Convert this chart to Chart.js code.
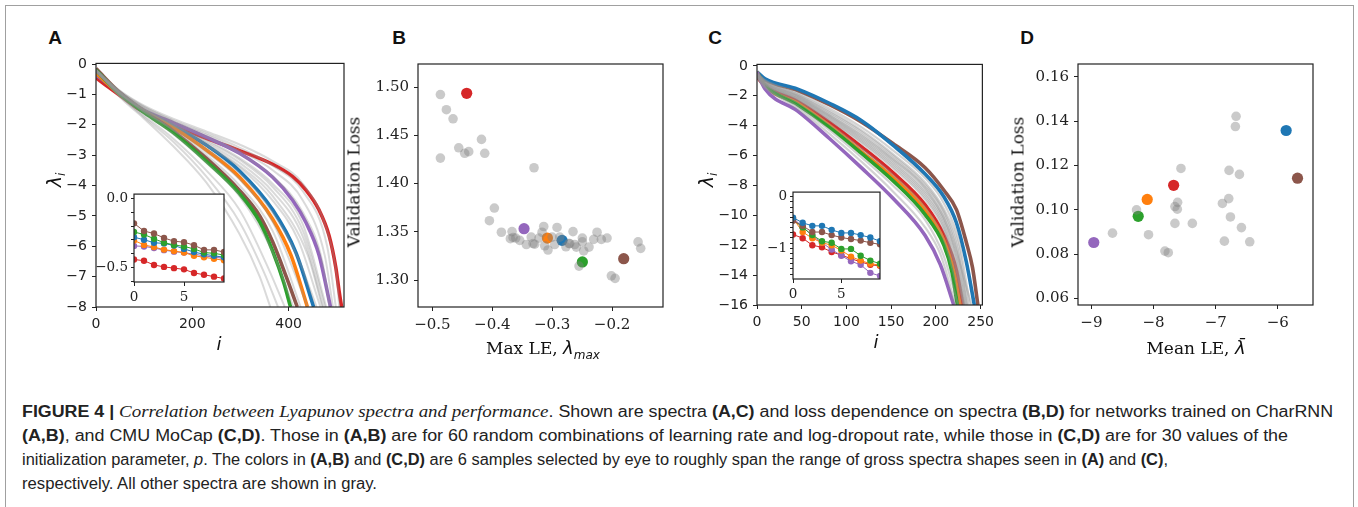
<!DOCTYPE html>
<html>
<head>
<meta charset="utf-8">
<script src="https://cdn.jsdelivr.net/npm/chart.js@4.4.1/dist/chart.umd.min.js"></script>
<style>
body { margin:0; background:#fff; width:1358px; height:507px; overflow:hidden; position:relative; font-family:"DejaVu Sans"; }
.frame { position:absolute; left:5px; top:5px; width:1347px; height:530px; border:1px solid #a0a0a0; }
canvas { position:absolute; }
.lbl { position:absolute; white-space:nowrap; color:#111; line-height:1; }
.letter { font-family:"Liberation Sans", Arial, sans-serif; font-weight:bold; font-size:19px; }
.serif { font-family:"DejaVu Serif"; font-size:17px; }
.math { font-family:"DejaVu Sans"; font-style:italic; }
.cap { position:absolute; left:22px; white-space:nowrap; font-family:"Liberation Sans Narrow","Liberation Sans",sans-serif; font-size:16px; color:#222; transform-origin:0 50%; }
.cap b { font-weight:bold; }
.cap .it { font-family:"Liberation Serif"; font-style:italic; font-size:17px; }
</style>
</head>
<body>
<div class="frame"></div>

<canvas id="chartA"></canvas>
<canvas id="chartB"></canvas>
<canvas id="chartC"></canvas>
<canvas id="chartD"></canvas>
<canvas id="insetA"></canvas>
<canvas id="insetC"></canvas>

<script>
// ---------- colours ----------
const COLORS = {
    blue: '#1f77b4', orange: '#ff7f0e', green: '#2ca02c',
    red: '#d62728', purple: '#9467bd', brown: '#8c564b'
};

// ---------- panel A : CharRNN spectra, [i, lambda_i] ----------
const A_X_TICKS = [0, 200, 400];
const A_Y_TICKS = [0, -1, -2, -3, -4, -5, -6, -7, -8];
const A_GREEN  = [[0,-0.2],[50,-1.0],[100,-1.6],[160,-2.25],[229,-3.2],[298,-4.27],[340,-5.2],[367,-6.17],[390,-7.2],[404,-8]];
const A_BROWN  = [[0,-0.15],[50,-0.95],[100,-1.55],[160,-2.2],[229,-3.1],[298,-4.16],[340,-5.0],[367,-5.86],[395,-7.0],[418,-8]];
const A_ORANGE = [[0,-0.3],[50,-1.0],[100,-1.55],[160,-2.09],[229,-2.83],[298,-3.73],[367,-5.11],[405,-6.3],[439,-8]];
const A_BLUE   = [[0,-0.3],[50,-1.0],[100,-1.55],[160,-2.04],[229,-2.67],[298,-3.52],[367,-4.8],[415,-6.2],[452,-8]];
const A_PURPLE = [[0,-0.35],[50,-0.95],[91,-1.45],[160,-1.93],[229,-2.41],[298,-2.94],[367,-3.73],[408,-4.48],[436,-5.22],[463,-6.28],[487,-8]];
const A_RED    = [[0,-0.45],[25,-0.75],[60,-1.15],[91,-1.5],[160,-2.0],[229,-2.45],[298,-2.85],[367,-3.3],[408,-3.7],[436,-4.15],[463,-4.8],[484,-5.65],[498,-6.7],[505,-7.5],[510,-8]];
const A_GRAY = [
    [[0,-0.2],[50,-1.1],[100,-1.8],[160,-2.7],[229,-3.9],[298,-5.6],[340,-7.0],[362,-8]],
    [[0,-0.2],[50,-1.05],[100,-1.75],[160,-2.55],[229,-3.7],[298,-5.2],[350,-6.9],[378,-8]],
    [[0,-0.2],[50,-1.05],[100,-1.7],[160,-2.45],[229,-3.5],[298,-4.8],[360,-6.8],[392,-8]],
    [[0,-0.2],[50,-1.0],[100,-1.62],[160,-2.3],[229,-3.25],[298,-4.35],[367,-6.2],[410,-8]],
    [[0,-0.2],[50,-0.98],[100,-1.58],[160,-2.18],[229,-3.0],[298,-4.0],[367,-5.5],[425,-8]],
    [[0,-0.22],[50,-0.97],[100,-1.56],[160,-2.15],[229,-2.9],[298,-3.8],[367,-5.2],[440,-8]],
    [[0,-0.25],[50,-0.98],[100,-1.55],[160,-2.1],[229,-2.8],[298,-3.6],[367,-4.9],[420,-6.4],[458,-8]],
    [[0,-0.25],[50,-0.97],[100,-1.52],[160,-2.05],[229,-2.7],[298,-3.4],[367,-4.5],[420,-5.8],[466,-8]],
    [[0,-0.25],[50,-0.95],[100,-1.5],[160,-2.02],[229,-2.65],[298,-3.35],[367,-4.35],[440,-6.3],[470,-8]],
    [[0,-0.25],[50,-0.96],[100,-1.5],[160,-2.0],[229,-2.6],[298,-3.25],[367,-4.2],[430,-5.7],[472,-8]],
    [[0,-0.2],[50,-0.95],[100,-1.5],[160,-2.0],[229,-2.55],[298,-3.15],[367,-4.05],[430,-5.5],[476,-8]],
    [[0,-0.25],[50,-0.95],[100,-1.48],[160,-1.98],[229,-2.5],[298,-3.1],[367,-3.95],[430,-5.3],[478,-8]],
    [[0,-0.2],[50,-0.93],[100,-1.45],[160,-1.92],[229,-2.4],[298,-2.95],[367,-3.7],[430,-4.9],[470,-6.5],[485,-8]],
    [[0,-0.2],[50,-0.92],[100,-1.42],[160,-1.88],[229,-2.33],[298,-2.85],[367,-3.5],[430,-4.5],[475,-6.3],[492,-8]],
    [[0,-0.2],[50,-0.9],[100,-1.4],[160,-1.85],[229,-2.28],[298,-2.75],[367,-3.35],[430,-4.2],[480,-6.0],[498,-8]],
    [[0,-0.2],[50,-0.88],[100,-1.37],[160,-1.8],[229,-2.22],[298,-2.65],[367,-3.2],[430,-3.95],[480,-5.5],[500,-7.0],[505,-8]]
];

// inset A: first ten exponents
const INSET_IDX = [0, 1, 2, 3, 4, 5, 6, 7, 8, 9];
const IA_BROWN  = [-0.179,-0.235,-0.253,-0.285,-0.309,-0.316,-0.338,-0.372,-0.372,-0.388];
const IA_GREEN  = [-0.242,-0.26,-0.291,-0.32,-0.336,-0.347,-0.365,-0.392,-0.397,-0.41];
const IA_BLUE   = [-0.28,-0.298,-0.32,-0.325,-0.34,-0.365,-0.388,-0.404,-0.415,-0.426];
const IA_ORANGE = [-0.303,-0.336,-0.352,-0.37,-0.381,-0.392,-0.415,-0.426,-0.437,-0.448];
const IA_PURPLE = [-0.343,-0.347,-0.358,-0.374,-0.385,-0.392,-0.404,-0.415,-0.426,-0.433];
const IA_RED    = [-0.442,-0.451,-0.482,-0.496,-0.505,-0.514,-0.54,-0.553,-0.567,-0.581];

// ---------- panel B : max LE vs validation loss ----------
const B_X_TICKS = [-0.5, -0.4, -0.3, -0.2];
const B_Y_TICKS = [1.30, 1.35, 1.40, 1.45, 1.50];
const B_GRAY_X = [-0.4866,-0.4766,-0.4655,-0.4866,-0.456,-0.446,-0.4393,-0.418,-0.4126,-0.3303,-0.3965,-0.4048,-0.3848,-0.367,-0.3609,-0.3698,-0.3542,-0.3431,-0.332,-0.3292,-0.322,-0.3141,-0.3169,-0.3125,-0.307,-0.2958,-0.2919,-0.2874,-0.2707,-0.2652,-0.2624,-0.2596,-0.2496,-0.2496,-0.2474,-0.2552,-0.2385,-0.2307,-0.2251,-0.2179,-0.2084,-0.2012,-0.195,-0.1566,-0.1522,-0.3653,-0.335,-0.3,-0.272,-0.277];
const B_GRAY_Y = [1.4923,1.4766,1.4672,1.4264,1.4371,1.4314,1.4331,1.4458,1.4314,1.4164,1.3746,1.3615,1.3495,1.3502,1.3435,1.3428,1.3411,1.3368,1.3378,1.3371,1.3435,1.3555,1.3495,1.3355,1.3311,1.3368,1.3545,1.3445,1.3378,1.3502,1.3368,1.3341,1.3435,1.3395,1.3301,1.3144,1.3341,1.3421,1.3495,1.3421,1.3435,1.3043,1.3017,1.3395,1.3328,1.3441,1.3445,1.3445,1.3378,1.3345];
const B_SEL_NAMES = ['red', 'purple', 'orange', 'blue', 'green', 'brown'];
const B_SEL_X = [-0.4427, -0.347, -0.308, -0.2835, -0.2496, -0.1806];
const B_SEL_Y = [1.4936, 1.3532, 1.3435, 1.3411, 1.3187, 1.3221];

// ---------- panel C : CMU MoCap spectra ----------
const C_X_TICKS = [0, 50, 100, 150, 200, 250];
const C_Y_TICKS = [0, -2, -4, -6, -8, -10, -12, -14, -16];
const C_BLUE   = [[0,-0.4],[9,-0.86],[45.5,-1.55],[81,-2.5],[116.6,-3.65],[152,-5.3],[188,-7.24],[209,-8.76],[223,-10.5],[234,-13.1],[243,-16]];
const C_BROWN  = [[0,-0.46],[9,-0.92],[45.5,-1.65],[81,-2.6],[116.6,-3.75],[152,-5.19],[188,-6.81],[209,-8.32],[223,-9.62],[234,-11.8],[241,-13.5],[247,-16]];
const C_RED    = [[0,-0.73],[9,-1.34],[45.5,-2.38],[81,-3.78],[116.6,-5.4],[152,-7.14],[188,-9.3],[209,-11.35],[223,-13.7],[230,-16]];
const C_ORANGE = [[0,-0.42],[9,-1.33],[45.5,-2.5],[81,-4.0],[116.6,-5.73],[152,-7.46],[188,-9.62],[209,-11.7],[220,-13.8],[227,-16]];
const C_GREEN  = [[0,-0.45],[9,-1.3],[45.5,-2.6],[81,-4.1],[116.6,-5.84],[152,-7.68],[188,-9.95],[209,-12.0],[218,-13.8],[224,-16]];
const C_PURPLE = [[0,-0.42],[9,-1.54],[45.5,-3.03],[81,-4.86],[116.6,-6.81],[152,-8.86],[188,-11.35],[205,-13.3],[220,-16]];
const C_GRAY = [
    [[0,-0.5],[9,-0.95],[45.5,-1.8],[81,-2.85],[116.6,-4.1],[152,-5.65],[188,-7.5],[209,-9.2],[226,-11.8],[238,-16]],
    [[0,-0.5],[9,-1.0],[45.5,-1.9],[81,-3.0],[116.6,-4.3],[152,-5.9],[188,-7.8],[209,-9.6],[225,-12],[236,-16]],
    [[0,-0.55],[9,-1.05],[45.5,-1.95],[81,-3.1],[116.6,-4.4],[152,-6.0],[188,-7.95],[209,-9.75],[224,-12.2],[235,-16]],
    [[0,-0.6],[9,-1.1],[45.5,-2.0],[81,-3.2],[116.6,-4.55],[152,-6.15],[188,-8.1],[209,-9.9],[224,-12.5],[234,-16]],
    [[0,-0.6],[9,-1.1],[45.5,-2.05],[81,-3.3],[116.6,-4.65],[152,-6.25],[188,-8.2],[215,-11],[240,-16]],
    [[0,-0.6],[9,-1.15],[45.5,-2.1],[81,-3.35],[116.6,-4.75],[152,-6.35],[188,-8.35],[209,-10.2],[223,-12.8],[233,-16]],
    [[0,-0.62],[9,-1.17],[45.5,-2.15],[81,-3.42],[116.6,-4.85],[152,-6.48],[188,-8.5],[209,-10.4],[223,-13.0],[232,-16]],
    [[0,-0.65],[9,-1.2],[45.5,-2.2],[81,-3.5],[116.6,-4.95],[152,-6.6],[188,-8.65],[209,-10.6],[222,-13.2],[232,-16]],
    [[0,-0.68],[9,-1.22],[45.5,-2.25],[81,-3.58],[116.6,-5.05],[152,-6.72],[188,-8.8],[209,-10.8],[222,-13.4],[231,-16]],
    [[0,-0.7],[9,-1.25],[45.5,-2.3],[81,-3.65],[116.6,-5.15],[152,-6.85],[188,-8.95],[209,-11.0],[221,-13.5],[231,-16]],
    [[0,-0.7],[9,-1.3],[45.5,-2.45],[81,-3.9],[116.6,-5.55],[152,-7.3],[188,-9.5],[209,-11.6],[220,-13.9],[228,-16]],
    [[0,-0.75],[9,-1.4],[45.5,-2.7],[81,-4.3],[116.6,-6.1],[152,-8.0],[188,-10.3],[208,-12.6],[225,-16]],
    [[0,-0.8],[9,-1.45],[45.5,-2.85],[81,-4.55],[116.6,-6.4],[152,-8.4],[188,-10.8],[205,-12.6],[222,-16]]
];

// inset C
const IC_BLUE   = [-0.405,-0.506,-0.565,-0.565,-0.643,-0.702,-0.702,-0.744,-0.792,-0.863];
const IC_BROWN  = [-0.464,-0.565,-0.685,-0.685,-0.744,-0.792,-0.821,-0.851,-0.893,-0.923];
const IC_GREEN  = [-0.446,-0.595,-0.744,-0.863,-0.893,-1.012,-1.012,-1.143,-1.238,-1.298];
const IC_ORANGE = [-0.417,-0.685,-0.804,-0.893,-0.94,-1.042,-1.161,-1.238,-1.298,-1.327];
const IC_PURPLE = [-0.417,-0.583,-0.762,-0.893,-1.024,-1.143,-1.25,-1.321,-1.476,-1.536];
const IC_RED    = [-0.732,-0.804,-0.94,-0.982,-1.071,-1.131,-1.202,-1.262,-1.321,-1.339];

// ---------- panel D : mean LE vs validation loss ----------
const D_X_TICKS = [-9, -8, -7, -6];
const D_Y_TICKS = [0.06, 0.08, 0.10, 0.12, 0.14, 0.16];
const D_GRAY_X = [-8.661,-8.274,-8.081,-7.817,-7.763,-7.559,-7.613,-7.656,-7.618,-7.656,-7.376,-6.672,-6.683,-6.785,-6.618,-6.892,-6.790,-6.763,-6.586,-6.860,-6.452];
const D_GRAY_Y = [0.0895,0.1000,0.0888,0.0814,0.0807,0.1187,0.1034,0.1015,0.1003,0.0939,0.0939,0.1422,0.1376,0.1178,0.1160,0.1029,0.1051,0.0968,0.0920,0.0859,0.0856];
const D_SEL_NAMES = ['purple', 'green', 'orange', 'red', 'blue', 'brown'];
const D_SEL_X = [-8.962, -8.247, -8.102, -7.677, -5.866, -5.683];
const D_SEL_Y = [0.0853, 0.0971, 0.1047, 0.1111, 0.1358, 0.1143];

// ---------- helpers ----------
const INK = '#222';

function fmt(v, dec) {
    const s = Math.abs(v).toFixed(dec);
    return (v < -1e-9 ? '\u2212' : '') + s;
}

const framePlugin = {
    id: 'frame',
    beforeDatasetsDraw(chart, args, opts) {
        const a = chart.chartArea, c = chart.ctx;
        if (opts.fill) {
            c.save();
            c.fillStyle = opts.fill;
            c.fillRect(a.left, a.top, a.right - a.left, a.bottom - a.top);
            c.restore();
        }
    },
    afterDraw(chart) {
        const a = chart.chartArea, c = chart.ctx;
        c.save();
        c.strokeStyle = INK;
        c.lineWidth = 1.2;
        c.strokeRect(a.left, a.top, a.right - a.left, a.bottom - a.top);
        c.restore();
    }
};

// area = plot box in page pixels, m = room around it for ticks
function makeChart(id, area, m, type, datasets, sx, sy, fill) {
    const el = document.getElementById(id);
    const w = area.r - area.l + m.L + m.R;
    const h = area.b - area.t + m.T + m.B;
    el.width = w; el.height = h;
    el.style.left = (area.l - m.L) + 'px';
    el.style.top = (area.t - m.T) + 'px';
    el.style.width = w + 'px';
    el.style.height = h + 'px';

    function axis(s, isX) {
        return {
            type: 'linear',
            min: s.min, max: s.max,
            border: { display: false },
            grid: { drawOnChartArea: false, drawTicks: true, tickLength: s.tickLen || 4, tickColor: INK, lineWidth: 1 },
            ticks: {
                autoSkip: false, maxRotation: 0, padding: s.pad || 4,
                color: INK, font: { family: s.font, size: s.size },
                callback: (v) => s.label(v)
            },
            afterBuildTicks: (sc) => { sc.ticks = s.ticks.map(v => ({ value: v })); },
            afterFit: (sc) => { if (isX) sc.height = m.B; else sc.width = m.L; }
        };
    }

    return new Chart(el, {
        type: type,
        data: { datasets: datasets },
        options: {
            responsive: false, animation: false, devicePixelRatio: 1,
            layout: { padding: { left: 0, top: m.T, right: m.R, bottom: 0 } },
            plugins: { legend: { display: false }, tooltip: { enabled: false }, frame: { fill: fill || null } },
            scales: { x: axis(sx, true), y: axis(sy, false) }
        },
        plugins: [framePlugin]
    });
}

const pts = (arr) => arr.map(p => ({ x: p[0], y: p[1] }));
const idxPts = (ys) => ys.map((y, k) => ({ x: INSET_IDX[k], y: y }));

function spectrumSet(data, color, width) {
    return { data: pts(data), borderColor: color, borderWidth: width, pointRadius: 0,
             cubicInterpolationMode: 'monotone', fill: false };
}
function insetSet(ys, color) {
    return { data: idxPts(ys), borderColor: color, backgroundColor: color, borderWidth: 1,
             pointRadius: 3.2, pointBorderWidth: 0, fill: false };
}

// ---------- panel A ----------
const aSets = A_GRAY.map(g => spectrumSet(g, 'rgba(150,150,150,0.35)', 2));
[[A_GREEN, 'green'], [A_BROWN, 'brown'], [A_ORANGE, 'orange'], [A_BLUE, 'blue'], [A_PURPLE, 'purple'], [A_RED, 'red']]
    .forEach(([d, c]) => aSets.push(spectrumSet(d, COLORS[c], 3.6)));
makeChart('chartA', { l: 96, t: 56, r: 344, b: 307 }, { L: 56, T: 6, R: 6, B: 36 }, 'line', aSets,
    { min: 0, max: 515, ticks: A_X_TICKS, font: 'DejaVu Sans', size: 14, pad: 5, label: v => fmt(v, 0) },
    { min: -8, max: 0.02, ticks: A_Y_TICKS, font: 'DejaVu Sans', size: 14, pad: 5, label: v => fmt(v, 0) });

// ---------- panel C ----------
const cSets = C_GRAY.map(g => spectrumSet(g, 'rgba(150,150,150,0.42)', 2.2));
[[C_PURPLE, 'purple'], [C_GREEN, 'green'], [C_ORANGE, 'orange'], [C_RED, 'red'], [C_BLUE, 'blue'], [C_BROWN, 'brown']]
    .forEach(([d, c]) => cSets.push(spectrumSet(d, COLORS[c], 3.6)));
makeChart('chartC', { l: 757, t: 57, r: 993, b: 305 }, { L: 48, T: 6, R: 6, B: 36 }, 'line', cSets,
    { min: 0, max: 252, ticks: C_X_TICKS, font: 'DejaVu Sans', size: 14, pad: 5, label: v => fmt(v, 0) },
    { min: -16, max: 0.1, ticks: C_Y_TICKS, font: 'DejaVu Sans', size: 14, pad: 5, label: v => fmt(v, 0) });

// ---------- panel B ----------
const GRAY_DOT = 'rgba(128,128,128,0.42)';
const bSets = [{ data: B_GRAY_X.map((x, k) => ({ x: x, y: B_GRAY_Y[k] })), backgroundColor: GRAY_DOT,
                 pointRadius: 4.8, pointBorderWidth: 0 }];
B_SEL_NAMES.forEach((n, k) => bSets.push({ data: [{ x: B_SEL_X[k], y: B_SEL_Y[k] }], backgroundColor: COLORS[n],
                 pointRadius: 5.6, pointBorderWidth: 0 }));
makeChart('chartB', { l: 418, t: 56, r: 663, b: 307 }, { L: 60, T: 6, R: 6, B: 36 }, 'scatter', bSets,
    { min: -0.524, max: -0.115, ticks: B_X_TICKS, font: 'DejaVu Serif', size: 15, pad: 5, label: v => fmt(v, 1) },
    { min: 1.272, max: 1.524, ticks: B_Y_TICKS, font: 'DejaVu Serif', size: 15, pad: 5, label: v => fmt(v, 2) });

// ---------- panel D ----------
const dSets = [{ data: D_GRAY_X.map((x, k) => ({ x: x, y: D_GRAY_Y[k] })), backgroundColor: GRAY_DOT,
                 pointRadius: 4.8, pointBorderWidth: 0 }];
D_SEL_NAMES.forEach((n, k) => dSets.push({ data: [{ x: D_SEL_X[k], y: D_SEL_Y[k] }], backgroundColor: COLORS[n],
                 pointRadius: 5.6, pointBorderWidth: 0 }));
makeChart('chartD', { l: 1078, t: 56, r: 1313, b: 305 }, { L: 60, T: 6, R: 6, B: 36 }, 'scatter', dSets,
    { min: -9.216, max: -5.434, ticks: D_X_TICKS, font: 'DejaVu Serif', size: 15, pad: 5, label: v => fmt(v, 0) },
    { min: 0.0571, max: 0.1658, ticks: D_Y_TICKS, font: 'DejaVu Serif', size: 15, pad: 5, label: v => fmt(v, 2) });

// ---------- insets ----------
const IA_Y_TICKS = [0, -0.1, -0.2, -0.3, -0.4, -0.5, -0.6];
const IC_Y_TICKS = [0, -0.1, -0.2, -0.3, -0.4, -0.5, -0.6, -0.7, -0.8, -0.9, -1, -1.1, -1.2, -1.3, -1.4, -1.5];
const INSET_X_TICKS = [0, 5];

const iaSets = [[IA_BROWN, 'brown'], [IA_GREEN, 'green'], [IA_BLUE, 'blue'], [IA_ORANGE, 'orange'], [IA_PURPLE, 'purple'], [IA_RED, 'red']]
    .map(([d, c]) => insetSet(d, COLORS[c]));
makeChart('insetA', { l: 134, t: 187, r: 226, b: 282 }, { L: 40, T: 4, R: 2, B: 24 }, 'line', iaSets,
    { min: 0, max: 9, ticks: INSET_X_TICKS, font: 'DejaVu Serif', size: 13.5, pad: 3, tickLen: 4, label: v => fmt(v, 0) },
    { min: -0.606, max: 0.034, ticks: IA_Y_TICKS, font: 'DejaVu Serif', size: 13.5, pad: 3, tickLen: 3,
      label: v => (Math.abs(v) < 1e-9 || Math.abs(v + 0.5) < 1e-9) ? fmt(v, 1) : '' }, '#fff');

const icSets = [[IC_BLUE, 'blue'], [IC_BROWN, 'brown'], [IC_GREEN, 'green'], [IC_ORANGE, 'orange'], [IC_PURPLE, 'purple'], [IC_RED, 'red']]
    .map(([d, c]) => insetSet(d, COLORS[c]));
makeChart('insetC', { l: 793, t: 185, r: 882, b: 279 }, { L: 32, T: 4, R: 2, B: 24 }, 'line', icSets,
    { min: 0, max: 9, ticks: INSET_X_TICKS, font: 'DejaVu Serif', size: 13.5, pad: 3, tickLen: 4, label: v => fmt(v, 0) },
    { min: -1.595, max: 0.089, ticks: IC_Y_TICKS, font: 'DejaVu Serif', size: 13.5, pad: 3, tickLen: 3,
      label: v => (Math.abs(v) < 1e-9 || Math.abs(v + 1) < 1e-9) ? fmt(v, 0) : '' }, '#fff');

// ---------- text ----------
function put(html, cls, cx, cy, rot) {
    const d = document.createElement('div');
    d.className = 'lbl ' + cls;
    d.innerHTML = html;
    d.style.left = cx + 'px';
    d.style.top = cy + 'px';
    d.style.transform = 'translate(-50%,-50%)' + (rot ? ' rotate(' + rot + 'deg)' : '');
    document.body.appendChild(d);
}
put('A', 'letter', 55, 37); put('B', 'letter', 399, 37); put('C', 'letter', 715, 37); put('D', 'letter', 1027, 37);

const LAMBDA_I = '<span class="math" style="font-size:19px">λ<sub style="font-size:12px">i</sub></span>';
put(LAMBDA_I, '', 56, 180, -90);
put(LAMBDA_I, '', 708, 180, -90);
put('<span class="math" style="font-size:18px">i</span>', '', 219, 344);
put('<span class="math" style="font-size:18px">i</span>', '', 876, 342);
put('Validation Loss', 'serif', 354, 182, -90);
put('Validation Loss', 'serif', 1018, 182, -90);
put('Max LE, <span class="math" style="font-size:18px">λ<sub style="font-size:12px">max</sub></span>', 'serif', 543, 350);
put('Mean LE, <span class="math" style="font-size:18px">λ\u0304</span>', 'serif', 1196, 348);

// caption: each line squeezed to where it ends in the figure
const CAPTION = [
    '<b>FIGURE 4 |</b> <span class="it">Correlation between Lyapunov spectra and performance</span>. Shown are spectra <b>(A,C)</b> and loss dependence on spectra <b>(B,D)</b> for networks trained on CharRNN',
    '<b>(A,B)</b>, and CMU MoCap <b>(C,D)</b>. Those in <b>(A,B)</b> are for 60 random combinations of learning rate and log-dropout rate, while those in <b>(C,D)</b> are for 30 values of the',
    'initialization parameter, <i>p</i>. The colors in <b>(A,B)</b> and <b>(C,D)</b> are 6 samples selected by eye to roughly span the range of gross spectra shapes seen in <b>(A)</b> and <b>(C)</b>,',
    'respectively. All other spectra are shown in gray.'
];
const CAP_Y = [412, 436, 460, 484];
const CAP_END = [1333, 1288, 1168, 377];
CAPTION.forEach((t, k) => {
    const d = document.createElement('div');
    d.className = 'cap';
    d.innerHTML = t;
    document.body.appendChild(d);
    const r = d.getBoundingClientRect();
    d.style.top = (CAP_Y[k] - r.height / 2) + 'px';
    d.style.transform = 'scaleX(' + ((CAP_END[k] - 22) / r.width).toFixed(4) + ')';
});
</script>
</body>
</html>
